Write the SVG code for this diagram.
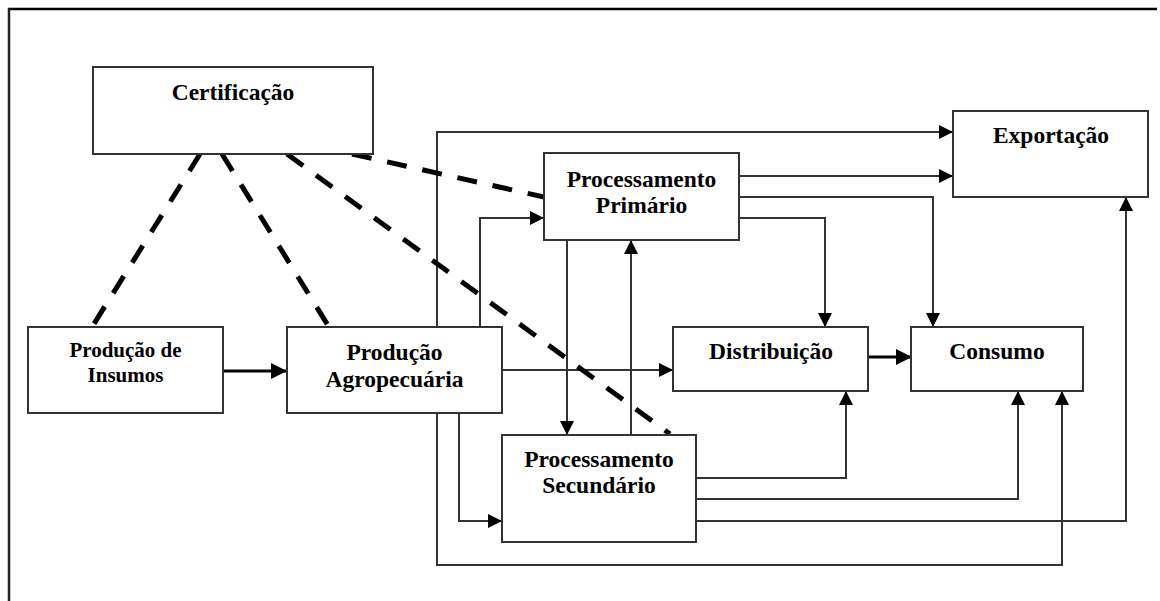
<svg xmlns="http://www.w3.org/2000/svg" width="1160" height="601" viewBox="0 0 1160 601">
<style>
.box{fill:#fff;stroke:#333;stroke-width:2}
.t{font-family:"Liberation Serif","Times New Roman",serif;font-weight:bold;font-size:23.5px;fill:#000;text-anchor:middle}
.c{fill:none;stroke:#333;stroke-width:2}
.thick{fill:none;stroke:#000;stroke-width:3}
.dash{fill:none;stroke:#000;stroke-width:5;stroke-dasharray:20 16}
</style>
<defs>
<marker id="a" viewBox="0 0 14 14" refX="14" refY="7" markerWidth="14" markerHeight="14" markerUnits="userSpaceOnUse" orient="auto">
<path d="M0,0 L14,7 L0,14 z" fill="#000"/>
</marker>
<marker id="b" viewBox="0 0 16 16" refX="16" refY="8" markerWidth="16" markerHeight="16" markerUnits="userSpaceOnUse" orient="auto">
<path d="M0,0 L16,8 L0,16 z" fill="#000"/>
</marker>
</defs>
<rect width="1160" height="601" fill="#fff"/>
<g id="frame">
<path d="M8,9 H1157" stroke="#000" stroke-width="2.5" fill="none"/>
<path d="M9,8 V601" stroke="#222" stroke-width="2.5" fill="none"/>
</g>
<g id="connectors">
<path class="c" d="M437,327 V132 H953" marker-end="url(#a)"/>
<path class="c" d="M437,413 V565 H1062 V391" marker-end="url(#a)"/>
<path class="c" d="M480,327 V218 H544" marker-end="url(#a)"/>
<path class="c" d="M459,413 V521 H502" marker-end="url(#a)"/>
<path class="c" d="M502,370 H673" marker-end="url(#a)"/>
<path class="c" d="M739,176 H953" marker-end="url(#a)"/>
<path class="c" d="M739,197 H933 V327" marker-end="url(#a)"/>
<path class="c" d="M739,218 H825 V327" marker-end="url(#a)"/>
<path class="c" d="M567,240 V435" marker-end="url(#a)"/>
<path class="c" d="M631,435 V240" marker-end="url(#a)"/>
<path class="c" d="M696,478 H846 V391" marker-end="url(#a)"/>
<path class="c" d="M696,499 H1018 V391" marker-end="url(#a)"/>
<path class="c" d="M696,521 H1126 V197" marker-end="url(#a)"/>
<path class="thick" d="M217,371 H287" marker-end="url(#b)"/>
<path class="thick" d="M865,357 H912" marker-end="url(#b)"/>
<path class="dash" d="M200,154 L92,327"/>
<path class="dash" d="M222,154 L329,327"/>
<path class="dash" d="M287,154 L670,434"/>
<path class="dash" d="M352,154 L544,197"/>
</g>
<g id="certificacao">
<rect class="box" x="93" y="67" width="280" height="87"/>
<text class="t" x="233" y="100">Certificação</text>
</g>
<g id="exportacao">
<rect class="box" x="953" y="111" width="195" height="86"/>
<text class="t" x="1051" y="143">Exportação</text>
</g>
<g id="processamento-primario">
<rect class="box" x="544" y="153" width="195" height="87"/>
<text class="t" x="641.5" y="187">Processamento</text>
<text class="t" x="641.5" y="213">Primário</text>
</g>
<g id="producao-insumos">
<rect class="box" x="28" y="327" width="195" height="86"/>
<text class="t" x="125.5" y="357" style="font-size:21px">Produção de</text>
<text class="t" x="125.5" y="382" style="font-size:21px">Insumos</text>
</g>
<g id="producao-agropecuaria">
<rect class="box" x="287" y="327" width="215" height="86"/>
<text class="t" x="394.5" y="360">Produção</text>
<text class="t" x="394.5" y="387">Agropecuária</text>
</g>
<g id="distribuicao">
<rect class="box" x="673" y="327" width="195" height="64"/>
<text class="t" x="771" y="359">Distribuição</text>
</g>
<g id="consumo">
<rect class="box" x="911" y="327" width="172" height="64"/>
<text class="t" x="997" y="359">Consumo</text>
</g>
<g id="processamento-secundario">
<rect class="box" x="502" y="435" width="194" height="107"/>
<text class="t" x="599" y="467">Processamento</text>
<text class="t" x="599" y="493">Secundário</text>
</g>
</svg>
